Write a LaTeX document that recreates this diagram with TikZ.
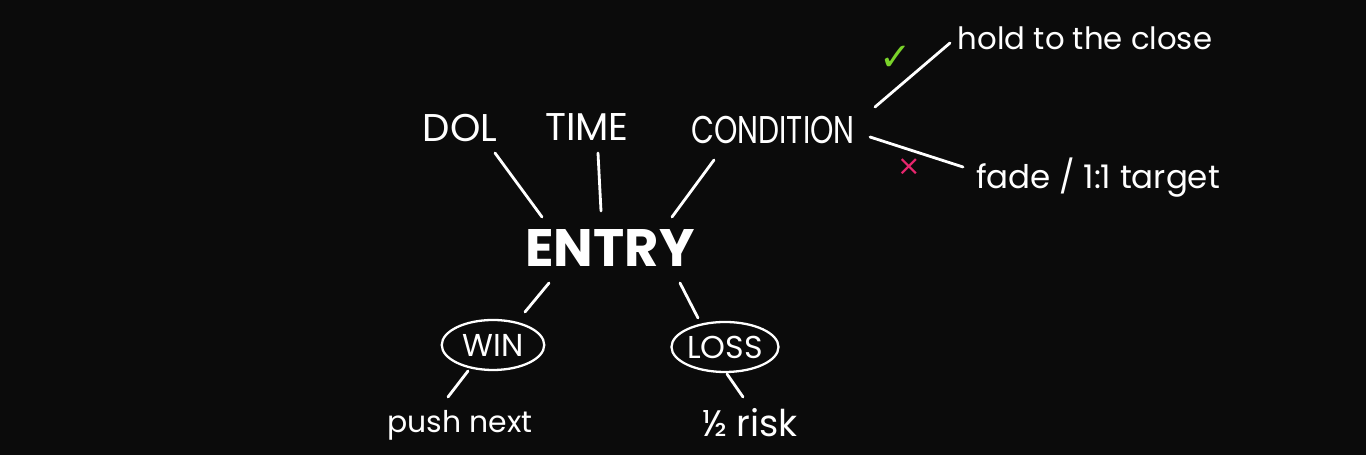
\documentclass[tikz,border=0pt]{standalone}
\usepackage{fontspec}
\setmainfont{Poppins}
\newfontfamily\symfont{DejaVu Sans}
\usepackage{tikz}
\usetikzlibrary{calc, shapes.geometric}
\definecolor{board}{HTML}{0B0B0B}
\definecolor{okgreen}{HTML}{7AD32A}
\definecolor{badpink}{HTML}{E8266E}
\tikzset{
    chalk/.style={text=white, inner sep=0pt},
    factor/.style={chalk, font=\fontsize{22}{24}\selectfont},
    outcome/.style={chalk, font=\fontsize{18}{20}\selectfont, draw=white, line width=1.3pt,
        ellipse, minimum width=2.05cm, minimum height=1cm},
    note/.style={chalk, font=\fontsize{17.5}{19}\selectfont},
    link/.style={draw=white, line width=1.6pt, line cap=round}
}

\begin{document}
\begin{tikzpicture}
    \fill[board] (0,0) rectangle (27.32,9.1);
    \useasboundingbox (0,0) rectangle (27.32,9.1);

    % what sets up the entry
    \node[factor] (dol) at (9.2,6.54) {DOL};
    \node[factor] (time) at (11.74,6.56) {TIME};
    \node[factor] (cond) at (15.46,6.5) {\scalebox{0.77}[1]{CONDITION}};
    \node[chalk, font=\fontsize{30}{32}\selectfont\bfseries] (entry) at (12.2,4.14) {ENTRY};

    % outcomes
    \node[outcome] (win) at (9.86,2.2) {WIN};
    \node[outcome] (loss) at (14.5,2.16) {LOSS};
    \node[note, font=\fontsize{17}{19}\selectfont] (push) at (9.2,0.6) {push next};
    \node[note, font=\fontsize{21}{23}\selectfont] (half) at (15.0,0.64) {½ risk};

    % condition branches
    \node[note] (hold) at (21.7,8.34) {hold to the close};
    \node[note, font=\fontsize{18.5}{20}\selectfont] (fade) at (21.96,5.54) {fade / 1:1 target};
    \node[chalk, text=okgreen, font=\symfont\fontsize{22}{24}\selectfont] (tick) at (17.92,7.94) {✓};
    \node[chalk, text=badpink, font=\symfont\fontsize{16}{18}\selectfont] (cross) at (18.18,5.76) {×};

    \draw[link] ($(dol)+(0.7,-0.5)$) -- ($(entry)+(-1.36,0.62)$);
    \draw[link] ($(time)+(0.22,-0.52)$) -- ($(entry)+(-0.18,0.74)$);
    \draw[link] ($(cond)+(-1.18,-0.6)$) -- ($(entry)+(1.24,0.62)$);
    \draw[link] ($(entry)+(-1.22,-0.7)$) -- ($(win)+(0.64,0.66)$);
    \draw[link] ($(entry)+(1.4,-0.7)$) -- ($(loss)+(-0.54,0.58)$);
    \draw[link] ($(win)+(-0.5,-0.52)$) -- ($(push)+(-0.24,0.56)$);
    \draw[link] ($(loss)+(0.04,-0.54)$) -- ($(half)+(-0.14,0.52)$);
    \draw[link] ($(cond)+(2.04,0.46)$) -- ($(hold)+(-2.7,-0.1)$);
    \draw[link] ($(cond)+(1.94,-0.14)$) -- ($(fade)+(-2.7,0.22)$);
\end{tikzpicture}
\end{document}
